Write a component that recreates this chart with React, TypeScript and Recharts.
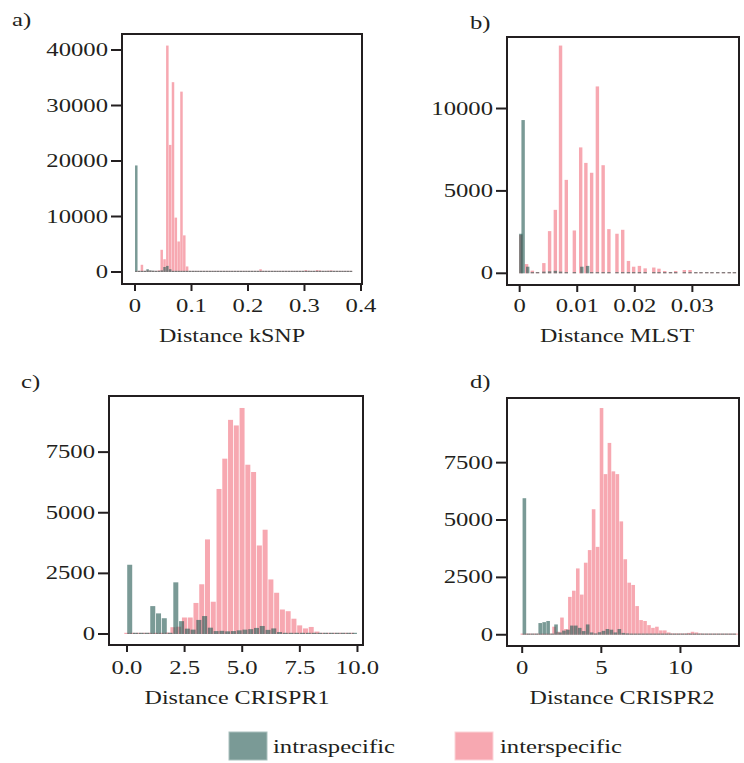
import React from 'react';
import { ComposedChart, Bar, XAxis, YAxis, ReferenceArea } from 'recharts';

const W = 744;
const H = 763;
const INK = '#231f20';
const INTRA = '#215750';
const INTER = '#f16e7d';
const ALPHA = 0.6;
const FONT = '"Liberation Serif", "Times New Roman", serif';
const STRETCH = 1.3;

// a) kSNP: bins of 0.005 starting at 0.0025
const kSnpStart = 0.0025;
const kSnpStep = 0.005;
const kSnpInter = [
  0, 0, 1300, 150, 300, 250, 200, 200, 300, 4000,
  2300, 40800, 22900, 34200, 9800, 5500, 32500, 6600, 1000, 100,
  50, 0, 0, 0, 0, 0, 0, 0, 0, 0,
  0, 0, 0, 0, 0, 0, 0, 0, 0, 0,
  0, 0, 0, 200, 500, 100, 0, 0, 0, 0,
  0, 0, 0, 0, 0, 0, 0, 0, 0, 100,
  350, 250, 150, 200, 350, 300, 150, 200, 250, 300,
  200, 0, 0, 0, 0, 0, 0,
];
const kSnpIntra = [
  19200, 0, 0, 100, 500, 300, 250, 200, 100, 300,
  900, 1100, 500, 200, 100, 0, 0, 0, 0, 0,
  0, 0, 0, 0, 0, 0, 0, 0, 0, 0,
  0, 0, 0, 0, 0, 0, 0, 0, 0, 0,
  0, 0, 0, 0, 0, 0, 0, 0, 0, 0,
  0, 0, 0, 0, 0, 0, 0, 0, 0, 0,
  0, 0, 0, 0, 0, 0, 0, 0, 0, 0,
  0, 0, 0, 0, 0, 0, 0,
];

// b) MLST: distances fall on an uneven grid
const mlstInterX = [
  0.0002, 0.0012, 0.0022, 0.0031, 0.0042, 0.0052, 0.0062, 0.0071, 0.0081, 0.0095,
  0.0106, 0.0115, 0.0125, 0.0135, 0.0145, 0.0155, 0.0169, 0.0179, 0.0189, 0.0198,
  0.0208, 0.0218, 0.0233, 0.0242, 0.0252, 0.0262, 0.0271, 0.0286, 0.0296, 0.0306,
  0.0315, 0.0325, 0.0334, 0.0344, 0.0354, 0.0364, 0.0373,
];
const mlstInter = [
  2330, 560, 160, 80, 620, 2560, 3850, 13820, 5670, 2600,
  7640, 6700, 6100, 11340, 6560, 2680, 2400, 2640, 750, 400,
  450, 300, 350, 280, 140, 80, 140, 200, 200, 60,
  60, 50, 50, 50, 40, 30, 30,
];
const mlstIntraX = [
  0.0002, 0.0006, 0.0014, 0.0022, 0.0031, 0.0042, 0.0052, 0.0062, 0.0071, 0.0081,
  0.0095, 0.0108, 0.0118, 0.0125, 0.0135, 0.0145, 0.0155, 0.0169, 0.0179, 0.0189,
  0.0198, 0.0208, 0.0218, 0.0233, 0.0242, 0.0252, 0.0262, 0.0271, 0.0286, 0.0296,
  0.0306, 0.0315, 0.0325, 0.0334, 0.0344, 0.0354, 0.0364, 0.0373,
];
const mlstIntra = [
  2400, 9300, 400, 60, 60, 100, 120, 150, 100, 60,
  40, 400, 450, 50, 40, 40, 30, 60, 30, 0,
  0, 0, 0, 0, 0, 0, 0, 0, 0, 0,
  0, 0, 0, 0, 0, 0, 0, 0,
];

// c) CRISPR1: bins of 0.25; intraspecific bins sit half a bin to the left
const crisprStep = 0.25;
const crispr1InterStart = 0;
const crispr1IntraStart = 0.125;
const crispr1Inter = [
  30, 30, 30, 30, 30, 30, 30, 60, 280, 300,
  680, 680, 1280, 2050, 3900, 1330, 5980, 7230, 8830, 8600,
  9320, 6980, 6680, 3650, 4300, 2250, 1700, 1010, 940, 630,
  355, 230, 290, 100, 30, 30, 30, 30, 30, 30,
];
const crispr1Intra = [
  2855, 20, 20, 20, 1150, 850, 650, 50, 2130, 530,
  220, 180, 580, 740, 260, 120, 130, 110, 120, 150,
  180, 200, 250, 330, 170, 230, 80, 30, 20, 20,
  10, 10, 10, 10, 10, 10, 10, 10, 10, 10,
];

// d) CRISPR2
const crispr2InterStart = 0;
const crispr2IntraStart = 0.125;
const crispr2Inter = [
  30, 30, 30, 30, 30, 30, 30, 30, 350, 130,
  750, 250, 1650, 1920, 2890, 1750, 3140, 3690, 5470, 3830,
  9880, 7000, 8360, 7120, 7000, 4940, 3290, 2270, 2170, 1250,
  640, 600, 420, 300, 350, 190, 190, 100, 60, 60,
  60, 60, 80, 130, 100, 60, 30, 30, 30, 30,
  30, 30, 30, 30, 30,
];
const crispr2Intra = [
  5950, 10, 10, 10, 510, 550, 600, 20, 450, 100,
  180, 220, 400, 400, 300, 160, 450, 100, 60, 110,
  170, 250, 220, 100, 250, 80, 60, 40, 20, 20,
  20, 20, 20, 20, 20, 20, 20, 20, 20, 20,
  20, 20, 20, 20, 20, 20, 20, 20, 20, 20,
  20, 20, 20, 20,
];

type Row = { x: number; intra?: number; inter?: number };

const gridX = (values: number[], start: number, step: number) => values.map((_, i) => start + step * i);

function merge(intraX: number[], intra: number[], interX: number[], inter: number[]): Row[] {
  const rows = new Map<string, Row>();
  const put = (x: number, key: 'intra' | 'inter', v: number) => {
    const k = x.toFixed(6);
    const row = rows.get(k) ?? { x };
    row[key] = v;
    rows.set(k, row);
  };
  intraX.forEach((x, i) => put(x, 'intra', intra[i]));
  interX.forEach((x, i) => put(x, 'inter', inter[i]));
  return [...rows.values()].sort((a, b) => a.x - b.x);
}

const kSnpData = merge(
  gridX(kSnpIntra, kSnpStart, kSnpStep), kSnpIntra,
  gridX(kSnpInter, kSnpStart, kSnpStep), kSnpInter,
);
const mlstData = merge(mlstIntraX, mlstIntra, mlstInterX, mlstInter);
const crispr1Data = merge(
  gridX(crispr1Intra, crispr1IntraStart, crisprStep), crispr1Intra,
  gridX(crispr1Inter, crispr1InterStart, crisprStep), crispr1Inter,
);
const crispr2Data = merge(
  gridX(crispr2Intra, crispr2IntraStart, crisprStep), crispr2Intra,
  gridX(crispr2Inter, crispr2InterStart, crisprStep), crispr2Inter,
);

// fixed-width bar centred on the bin, at least ~1px tall so empty bins show
const binShape = (key: 'intra' | 'inter', color: string, w: number) => (props: any) => {
  const { x, y, width, height, payload } = props;
  if (!payload || payload[key] == null || !isFinite(x) || !isFinite(y)) return <g />;
  const cx = x + width / 2;
  const min = 1.2;
  const h = Math.max(height, min);
  const top = height < min ? y + height - min : y;
  return <rect x={cx - w / 2} y={top} width={w} height={h} fill={color} fillOpacity={ALPHA} />;
};

const Stretched = ({ x, y, anchor = 'start', size = 19, children }: any) => (
  <text
    transform={`translate(${x},${y}) scale(${STRETCH},1)`}
    textAnchor={anchor}
    fontFamily={FONT}
    fontSize={size}
    fill={INK}
  >
    {children}
  </text>
);

type PanelProps = {
  frame: [number, number, number, number]; // left, top, right, bottom
  xDomain: [number, number];
  yDomain: [number, number];
  xTicks: number[];
  yTicks: number[];
  fmt: (v: number) => string;
  data: Row[];
  barW: number;
  labelGap: number;
};

function Panel({ frame, xDomain, yDomain, xTicks, yTicks, fmt, data, barW, labelGap }: PanelProps) {
  const [l, t, r, b] = frame;
  return (
    <div style={{ position: 'absolute', left: 0, top: 0 }}>
      <ComposedChart
        width={W}
        height={H}
        data={data}
        margin={{ top: t, right: W - r, bottom: H - b - 30, left: l - 60 }}
      >
        <XAxis
          xAxisId="p"
          dataKey="x"
          type="number"
          domain={xDomain}
          ticks={xTicks}
          interval={0}
          allowDataOverflow
          height={30}
          axisLine={false}
          tickLine={false}
          tick={(p: any) => (
            <g>
              <line x1={p.x} x2={p.x} y1={b} y2={b + 7} stroke={INK} strokeWidth={2} />
              <Stretched x={p.x} y={b + labelGap} anchor="middle">{fmt(p.payload.value)}</Stretched>
            </g>
          )}
        />
        <XAxis xAxisId="i" dataKey="x" type="number" domain={xDomain} allowDataOverflow hide />
        <YAxis
          type="number"
          domain={yDomain}
          ticks={yTicks}
          interval={0}
          allowDataOverflow
          width={60}
          axisLine={false}
          tickLine={false}
          tick={(p: any) => (
            <g>
              <line x1={l - 11} x2={l} y1={p.y} y2={p.y} stroke={INK} strokeWidth={2} />
              <Stretched x={l - 14} y={p.y + 6} anchor="end">{String(p.payload.value)}</Stretched>
            </g>
          )}
        />
        <Bar xAxisId="p" dataKey="inter" shape={binShape('inter', INTER, barW)} isAnimationActive={false} />
        <Bar xAxisId="i" dataKey="intra" shape={binShape('intra', INTRA, barW)} isAnimationActive={false} />
        <ReferenceArea
          xAxisId="p"
          x1={xDomain[0]}
          x2={xDomain[1]}
          y1={yDomain[0]}
          y2={yDomain[1]}
          fill="none"
          stroke={INK}
          strokeWidth={2}
          ifOverflow="visible"
        />
      </ComposedChart>
    </div>
  );
}

export default function App() {
  return (
    <div style={{ position: 'absolute', left: 0, top: 0, width: W, height: H, background: '#fff' }}>
      <Panel
        frame={[122, 34, 362, 284]}
        xDomain={[-0.023, 0.4018]}
        yDomain={[-2162, 42883]}
        xTicks={[0, 0.1, 0.2, 0.3, 0.4]}
        yTicks={[0, 10000, 20000, 30000, 40000]}
        fmt={(v) => (v === 0 ? '0' : v.toFixed(1))}
        data={kSnpData}
        barW={2.5}
        labelGap={28}
      />
      <Panel
        frame={[507, 37, 739, 285]}
        xDomain={[-0.0022, 0.0381]}
        yDomain={[-710, 14340]}
        xTicks={[0, 0.01, 0.02, 0.03]}
        yTicks={[0, 5000, 10000]}
        fmt={(v) => (v === 0 ? '0' : v.toFixed(2))}
        data={mlstData}
        barW={3.4}
        labelGap={27}
      />
      <Panel
        frame={[109, 396, 363, 645]}
        xDomain={[-0.78, 10.24]}
        yDomain={[-454, 9814]}
        xTicks={[0, 2.5, 5, 7.5, 10]}
        yTicks={[0, 2500, 5000, 7500]}
        fmt={(v) => v.toFixed(1)}
        data={crispr1Data}
        barW={5}
        labelGap={29}
      />
      <Panel
        frame={[507, 398, 739, 646]}
        xDomain={[-0.96, 13.7]}
        yDomain={[-490, 10317]}
        xTicks={[0, 5, 10]}
        yTicks={[0, 2500, 5000, 7500]}
        fmt={(v) => String(v)}
        data={crispr2Data}
        barW={3.6}
        labelGap={28}
      />
      <svg width={W} height={H} style={{ position: 'absolute', left: 0, top: 0 }}>
        <Stretched x={12} y={26}>a)</Stretched>
        <Stretched x={470} y={29}>b)</Stretched>
        <Stretched x={21} y={388}>c)</Stretched>
        <Stretched x={470} y={388}>d)</Stretched>
        <Stretched x={232} y={342} anchor="middle" size={18.5}>Distance kSNP</Stretched>
        <Stretched x={617} y={342} anchor="middle" size={18.5}>Distance MLST</Stretched>
        <Stretched x={237} y={704} anchor="middle" size={18.5}>Distance CRISPR1</Stretched>
        <Stretched x={622} y={704} anchor="middle" size={18.5}>Distance CRISPR2</Stretched>
        <rect x={229} y={732} width={38} height={28} fill={INTRA} fillOpacity={ALPHA} stroke="#a9c0bd" strokeWidth={1} />
        <Stretched x={273} y={753}>intraspecific</Stretched>
        <rect x={455} y={732} width={38} height={28} fill={INTER} fillOpacity={ALPHA} stroke="#fcd3d8" strokeWidth={1} />
        <Stretched x={500} y={753}>interspecific</Stretched>
      </svg>
    </div>
  );
}
